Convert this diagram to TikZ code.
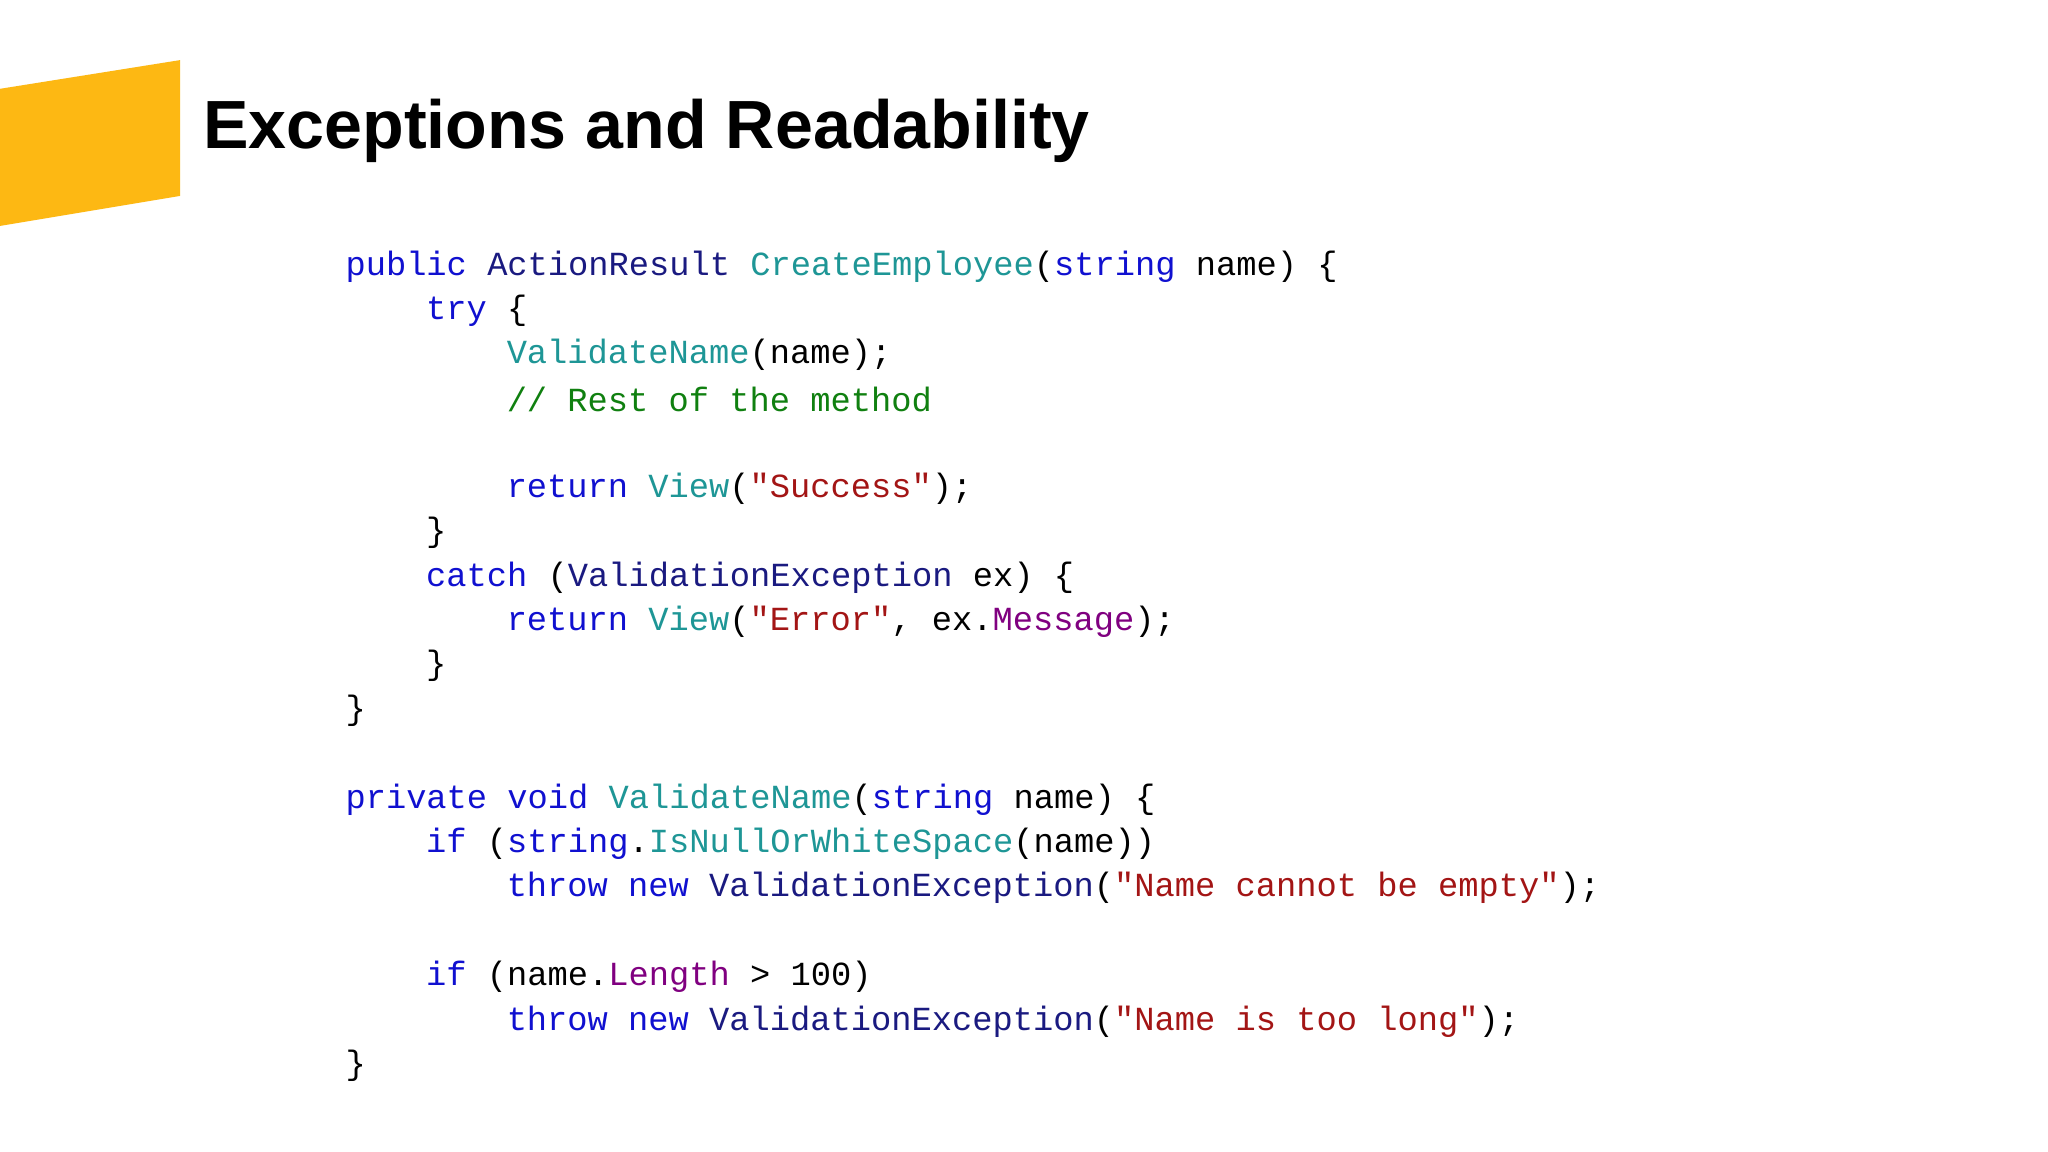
\documentclass[tikz,border=0pt]{standalone}
\usepackage{fontspec}
\setmainfont{Liberation Sans}
\setmonofont{Liberation Mono}
\definecolor{cKw}{HTML}{1010D0}
\definecolor{cTy}{HTML}{1A1A80}
\definecolor{cFn}{HTML}{1E9696}
\definecolor{cSt}{HTML}{A31515}
\definecolor{cCm}{HTML}{108010}
\definecolor{cPr}{HTML}{800080}
\definecolor{cOr}{HTML}{FDB813}
\newcommand{\ckw}[1]{\textcolor{cKw}{#1}}
\newcommand{\cty}[1]{\textcolor{cTy}{#1}}
\newcommand{\cfn}[1]{\textcolor{cFn}{#1}}
\newcommand{\cst}[1]{\textcolor{cSt}{#1}}
\newcommand{\ccm}[1]{\textcolor{cCm}{#1}}
\newcommand{\cpr}[1]{\textcolor{cPr}{#1}}
\begin{document}
\begin{tikzpicture}[x=0.013061cm,y=-0.013061cm,
  codeline/.style={anchor=west,inner sep=0pt,font=\ttfamily\fontsize{9.6pt}{11pt}\selectfont}]
\useasboundingbox (0,0) rectangle (1568,882);
\fill[white] (0,0) rectangle (1568,882);
\fill[cOr] (0,68) -- (138,46) -- (138,150) -- (0,173) -- cycle;
\node[anchor=west,inner sep=0pt,font=\bfseries\fontsize{19.4pt}{23pt}\selectfont] (title) at (155,100) {Exceptions and Readability};
\def\cw{15.43}
\def\dy{2}
\node[codeline] (l0) at (264,202+\dy) {\ckw{public} \cty{ActionResult} \cfn{CreateEmployee}(\ckw{string} name) \{};
\node[codeline] (l1) at (264+4*\cw,236+\dy) {\ckw{try} \{};
\node[codeline] (l2) at (264+8*\cw,270+\dy) {\cfn{ValidateName}(name);};
\node[codeline] (l3) at (264+8*\cw,304+\dy) {\ccm{// Rest of the method}};
\node[codeline] (l5) at (264+8*\cw,372+\dy) {\ckw{return} \cfn{View}(\cst{"Success"});};
\node[codeline] (l6) at (264+4*\cw,406+\dy) {\}};
\node[codeline] (l7) at (264+4*\cw,440+\dy) {\ckw{catch} (\cty{ValidationException} ex) \{};
\node[codeline] (l8) at (264+8*\cw,474+\dy) {\ckw{return} \cfn{View}(\cst{"Error"}, ex.\cpr{Message});};
\node[codeline] (l9) at (264+4*\cw,508+\dy) {\}};
\node[codeline] (l10) at (264,542+\dy) {\}};
\node[codeline] (l12) at (264,610+\dy) {\ckw{private} \ckw{void} \cfn{ValidateName}(\ckw{string} name) \{};
\node[codeline] (l13) at (264+4*\cw,644+\dy) {\ckw{if} (\ckw{string}.\cfn{IsNullOrWhiteSpace}(name))};
\node[codeline] (l14) at (264+8*\cw,678+\dy) {\ckw{throw} \ckw{new} \cty{ValidationException}(\cst{"Name cannot be empty"});};
\node[codeline] (l16) at (264+4*\cw,746+\dy) {\ckw{if} (name.\cpr{Length} > 100)};
\node[codeline] (l17) at (264+8*\cw,780+\dy) {\ckw{throw} \ckw{new} \cty{ValidationException}(\cst{"Name is too long"});};
\node[codeline] (l18) at (264,814+\dy) {\}};
\end{tikzpicture}
\end{document}
